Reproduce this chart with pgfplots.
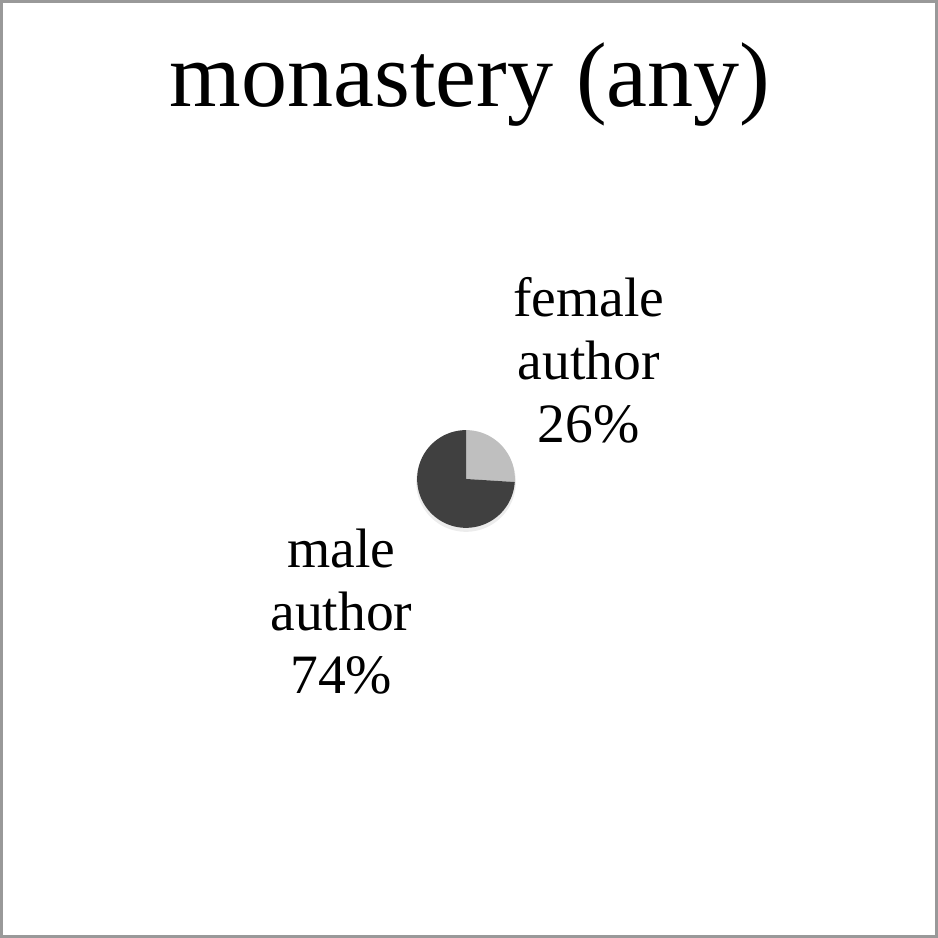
\documentclass[border=0pt]{standalone}
\usepackage{fontspec}
\setmainfont{Liberation Serif}
\usepackage{pgfplots}
\usepackage{pgfplotstable}
\pgfplotsset{compat=1.18}
\definecolor{darkslice}{HTML}{404040}
\definecolor{lightslice}{HTML}{BFBFBF}
\pgfplotstableread{
label value
female 26
male 74
}\piedata
\begin{document}
\begin{tikzpicture}
\pgfplotstablegetelem{0}{value}\of\piedata \let\vf\pgfplotsretval
\pgfplotstablegetelem{1}{value}\of\piedata \let\vm\pgfplotsretval
\pgfmathsetmacro{\af}{90-3.6*\vf}
\pgfmathsetmacro{\am}{\af-3.6*\vm}
\begin{axis}[
  width=10cm, height=10cm, scale only axis,
  xmin=-466, xmax=472, ymin=-459, ymax=479,
  ticks=none,
  axis line style={draw=gray!80, line width=0.8pt},
  clip=false,
]
% faint shadow
\addplot[fill=black!15, draw=none, opacity=0.5, domain=0:360, samples=120]
  ({50*cos(x)}, {-3+50*sin(x)}) -- cycle;
% female slice
\addplot[fill=lightslice, draw=none, domain=\af:90, samples=60]
  ({49*cos(x)}, {49*sin(x)}) -- (axis cs:0,0) -- cycle;
% male slice
\addplot[fill=darkslice, draw=none, domain=\am:\af, samples=150]
  ({49*cos(x)}, {49*sin(x)}) -- (axis cs:0,0) -- cycle;
\node[font=\fontsize{28}{32}\selectfont, anchor=base] at (axis cs:4,479-105) {monastery (any)};
\node[font=\fontsize{16.9}{19.2}\selectfont, align=center, anchor=center] at (axis cs:123,479-360) {female\\author\\26\%};
\node[font=\fontsize{16.9}{19.2}\selectfont, align=center, anchor=center] at (axis cs:-125,479-612) {male\\author\\74\%};
\end{axis}
\end{tikzpicture}
\end{document}
